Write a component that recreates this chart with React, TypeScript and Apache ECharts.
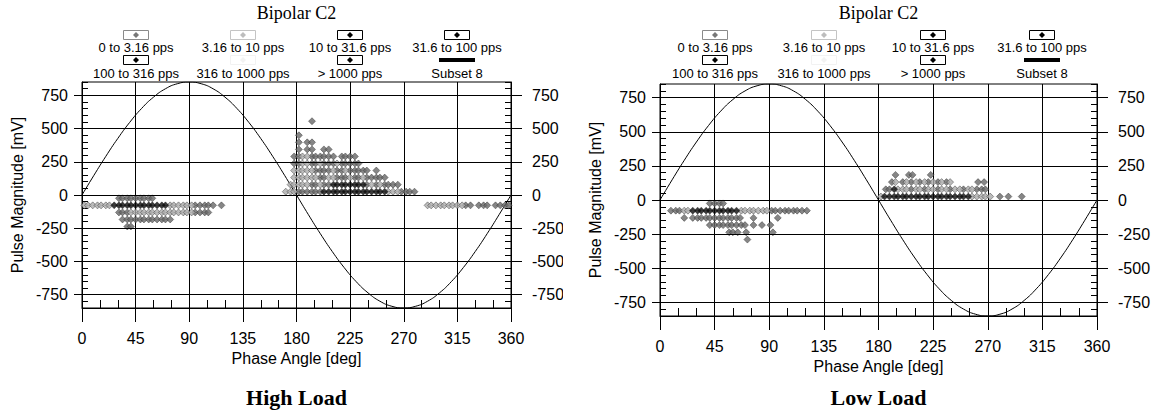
import React, { useEffect, useRef } from "react";
import * as echarts from "echarts";

// ---------- data ----------
const SERIES_NAMES = [
  "0 to 3.16 pps",
  "3.16 to 10 pps",
  "10 to 31.6 pps",
  "31.6 to 100 pps",
  "100 to 316 pps",
  "316 to 1000 pps",
  "> 1000 pps",
  "Subset 8",
];
const X_MIN = 0;
const X_MAX = 360;
const Y_MIN = -850;
const Y_MAX = 850;
const Y_TICKS = [-750, -500, -250, 0, 250, 500, 750];

// reference sine (phase in deg, magnitude in mV)
const SINE_PHASE = [0, 10, 20, 30, 40, 50, 60, 70, 80, 90, 100, 110, 120, 130, 140, 150, 160, 170, 180,
  190, 200, 210, 220, 230, 240, 250, 260, 270, 280, 290, 300, 310, 320, 330, 340, 350, 360];
const SINE_MV = [0, 148, 291, 425, 546, 651, 736, 799, 837, 850, 837, 799, 736, 651, 546, 425, 291, 148, 0,
  -148, -291, -425, -546, -651, -736, -799, -837, -850, -837, -799, -736, -651, -546, -425, -291, -148, 0];

type Rows = [number, number[]][];

// High Load: [magnitude mV, [phases deg]]
const HIGH_S1: Rows = [
  [-25, [31, 34, 38, 41, 45, 49, 52, 56, 59]],
  [-78, [95, 99, 103, 106, 110, 117, 322, 326, 333, 337, 340, 347, 351, 355, 358]],
  [-131, [31, 34, 38, 95, 99, 103, 106]],
  [-184, [34, 38, 41, 45, 49, 52, 56, 59, 63, 67, 70, 74]],
  [-237, [38, 41]],
  [555, [193]],
  [449, [182]],
  [396, [182, 189, 193]],
  [343, [182, 189, 193, 203, 207]],
  [290, [178, 182, 193, 196, 200, 203, 207, 211, 218, 221, 225, 229]],
  [237, [178, 182, 193, 196, 203, 207, 211, 218, 221, 225, 229, 232]],
  [184, [196, 200, 203, 207, 214, 218, 225, 229, 232, 236, 239, 247]],
  [131, [200, 203, 214, 218, 221, 229, 232, 239, 243, 247, 250, 254]],
  [78, [193, 196, 203, 207, 239, 247, 254, 257, 261, 265]],
  [25, [182, 185, 189, 193, 196, 200, 268, 272, 275, 279]],
];
const HIGH_S2: Rows = [
  [-78, [2, 5, 9, 13, 16, 20, 23, 74, 77, 81, 85, 88, 92, 290, 293, 297, 301, 304, 308, 311, 315, 319]],
  [-131, [41, 45, 49, 52, 56, 59, 63, 67, 70, 74, 77, 81, 85, 88, 92]],
  [290, [185, 189]],
  [237, [185, 189, 200, 214]],
  [184, [178, 182, 185, 189, 193, 211, 221]],
  [131, [178, 182, 185, 189, 193, 196, 207, 211, 225, 236]],
  [78, [175, 178, 182, 185, 189, 200, 243, 250]],
  [25, [171, 175, 178, 257, 261, 265]],
];
const HIGH_S3: Rows = [
  [-78, [27, 31, 34, 38, 41, 45, 49, 52, 56, 59, 63, 67, 70]],
  [78, [211, 214, 218, 221, 225, 229, 232, 236]],
  [25, [203, 207, 211, 214, 218, 221, 225, 229, 232, 236, 239, 243, 247, 250, 254]],
];

// Low Load
const LOW_S1: Rows = [
  [-25, [41, 45, 49, 52]],
  [-78, [9, 13, 16, 92, 95, 99, 103, 106, 110, 113, 117, 121]],
  [-131, [20, 27, 31, 34, 38, 41, 45, 49, 52, 56, 59, 63, 66, 77, 97]],
  [-184, [41, 45, 49, 52, 56, 59, 63, 67, 70, 77, 84, 91]],
  [-237, [57, 60, 64, 71, 93]],
  [-290, [72]],
  [184, [194, 205, 208, 223]],
  [131, [191, 200, 207, 214, 221, 229, 236, 262, 267]],
  [78, [186, 189, 207, 218, 229, 239, 250, 261, 265, 268]],
  [25, [280, 287, 298]],
];
const LOW_S2: Rows = [
  [-78, [20, 23, 67, 70, 74, 77, 81, 85, 88]],
  [131, [194, 203, 211, 218, 225, 232, 239]],
  [78, [196, 200, 203, 211, 214, 221, 225, 232, 236, 243, 247, 254, 257]],
  [25, [182, 257, 261, 265, 268, 272]],
];
const LOW_S3: Rows = [
  [-78, [27, 31, 34, 38, 41, 45, 49, 52, 56, 59, 63]],
  [78, [193]],
  [25, [185, 189, 193, 196, 200, 203, 207, 211, 214, 218, 221, 225, 229, 232, 236, 239, 243, 247, 250, 254]],
];

// ---------- styles ----------
const SANS = '"Liberation Sans", Arial, Helvetica, sans-serif';
const SERIF = '"Liberation Serif", "Times New Roman", serif';
const POINT_COLORS = ["#686868", "#ababab", "#0a0a0a"];
const LEGEND_BOX = ["#8a8a8a", "#c4c4c4", "#000", "#000", "#000", "#f2f2f2", "#000", "#000"];
const LEGEND_MARK = ["#777", "#bdbdbd", "#000", "#000", "#000", "#f2f2f2", "#000", "#000"];

const TITLE_Y = 13;
const BOX_Y = [35, 60];
const TEXT_Y = [47, 73];
const CAPTION_Y = 397;

type PanelCfg = {
  left: number;
  width: number;
  grid: { left: number; top: number; width: number; height: number };
  colSpacing: number;
  caption: string;
  rows: Rows[];
};

const PANELS: PanelCfg[] = [
  {
    left: 0,
    width: 563,
    grid: { left: 82, top: 82, width: 429, height: 226 },
    colSpacing: 107,
    caption: "High Load",
    rows: [HIGH_S1, HIGH_S2, HIGH_S3],
  },
  {
    left: 580,
    width: 575,
    grid: { left: 80, top: 84, width: 437, height: 232 },
    colSpacing: 109,
    caption: "Low Load",
    rows: [LOW_S1, LOW_S2, LOW_S3],
  },
];

function toPoints(rows: Rows): number[][] {
  const out: number[][] = [];
  rows.forEach(([mv, phases]) => phases.forEach((p) => out.push([p, mv])));
  return out;
}

function buildGraphic(cfg: PanelCfg) {
  const cx = cfg.grid.left + cfg.grid.width / 2;
  const cols = [-1.5, -0.5, 0.5, 1.5].map((k) => cx + k * cfg.colSpacing);
  const els: any[] = [];
  els.push({
    type: "text",
    x: cx,
    y: TITLE_Y,
    style: { text: "Bipolar C2", fill: "#000", font: `18px ${SERIF}`, align: "center", verticalAlign: "middle" },
  });
  SERIES_NAMES.forEach((name, i) => {
    const col = i % 4;
    const row = Math.floor(i / 4);
    const x = Math.round(cols[col]);
    const by = BOX_Y[row];
    if (i === 7) {
      els.push({
        type: "rect",
        shape: { x: x - 18, y: by - 2, width: 36, height: 4 },
        style: { fill: "#000" },
      });
    } else {
      els.push({
        type: "rect",
        shape: { x: x - 12.5, y: by - 4.5, width: 25, height: 9 },
        style: { fill: "#fff", stroke: LEGEND_BOX[i], lineWidth: 1 },
      });
      els.push({
        type: "polygon",
        shape: { points: [[x, by - 3], [x + 3, by], [x, by + 3], [x - 3, by]] },
        style: { fill: LEGEND_MARK[i] },
      });
    }
    els.push({
      type: "text",
      x,
      y: TEXT_Y[row],
      style: { text: name, fill: "#000", font: `13px ${SANS}`, align: "center", verticalAlign: "middle" },
    });
  });
  els.push({
    type: "text",
    x: cx,
    y: CAPTION_Y,
    style: { text: cfg.caption, fill: "#000", font: `bold 22px ${SERIF}`, align: "center", verticalAlign: "middle" },
  });
  return els;
}

function buildOption(cfg: PanelCfg) {
  const lineStyle = { color: "#000", width: 1 };
  const labelStyle = { color: "#000", fontSize: 16, fontFamily: SANS };
  const yMajor = (position: "left" | "right") => ({
    type: "value",
    min: Y_MIN,
    max: Y_MAX,
    position,
    axisLine: { show: true, onZero: false, lineStyle },
    axisTick: { show: true, length: position === "left" ? 8 : 11, customValues: Y_TICKS, lineStyle },
    axisLabel: { show: true, customValues: Y_TICKS, margin: position === "left" ? 14 : 21, ...labelStyle },
    splitLine: { show: false },
    ...(position === "left"
      ? {
          name: "Pulse Magnitude [mV]",
          nameLocation: "middle",
          nameGap: 56,
          nameTextStyle: { color: "#000", fontSize: 16, fontFamily: SANS },
        }
      : {}),
  });
  const yMinor = (position: "left" | "right") => ({
    type: "value",
    min: Y_MIN,
    max: Y_MAX,
    interval: 50,
    position,
    axisLine: { show: false, onZero: false },
    axisTick: { show: true, inside: true, length: 6, lineStyle },
    axisLabel: { show: false },
    splitLine: { show: false },
  });

  const series: any[] = [
    {
      type: "line",
      name: "sine",
      data: SINE_PHASE.map((p, i) => [p, SINE_MV[i]]),
      smooth: true,
      showSymbol: false,
      symbol: "none",
      silent: true,
      lineStyle: { color: "#000", width: 1 },
      z: 2,
      markLine: {
        silent: true,
        symbol: ["none", "none"],
        label: { show: false },
        lineStyle: { color: "#000", width: 1, type: "solid" },
        emphasis: { disabled: true },
        data: Y_TICKS.map((v) => ({ yAxis: v })),
      },
    },
  ];
  cfg.rows.forEach((rows, i) => {
    series.push({
      type: "scatter",
      name: SERIES_NAMES[i],
      data: toPoints(rows),
      symbol: "diamond",
      symbolSize: [7, 7],
      silent: true,
      itemStyle: { color: POINT_COLORS[i], borderColor: "#222", borderWidth: 0.5 },
      z: 3 + i,
    });
  });

  return {
    animation: false,
    backgroundColor: "#fff",
    grid: {
      ...cfg.grid,
      show: true,
      borderColor: "#000",
      borderWidth: 1,
      backgroundColor: "transparent",
      containLabel: false,
      outerBoundsMode: "none",
    },
    xAxis: [
      {
        type: "value",
        min: X_MIN,
        max: X_MAX,
        interval: 45,
        position: "bottom",
        axisLine: { show: true, onZero: false, lineStyle },
        axisTick: { show: true, length: 14, lineStyle },
        axisLabel: { show: true, margin: 22, ...labelStyle },
        splitLine: { show: true, lineStyle },
        name: "Phase Angle [deg]",
        nameLocation: "middle",
        nameGap: 40,
        nameTextStyle: { color: "#000", fontSize: 16, fontFamily: SANS },
      },
      {
        type: "value",
        min: X_MIN,
        max: X_MAX,
        interval: 15,
        position: "bottom",
        axisLine: { show: false, onZero: false },
        axisTick: { show: true, inside: true, length: 8, lineStyle },
        axisLabel: { show: false },
        splitLine: { show: false },
      },
    ],
    yAxis: [yMajor("left"), yMajor("right"), yMinor("left"), yMinor("right")],
    series,
    graphic: { elements: buildGraphic(cfg) },
  };
}

function Panel({ cfg }: { cfg: PanelCfg }) {
  const ref = useRef<HTMLDivElement>(null);
  useEffect(() => {
    if (!ref.current) return;
    const chart = echarts.init(ref.current, undefined, { renderer: "svg" });
    chart.setOption(buildOption(cfg) as any);
    return () => chart.dispose();
  }, [cfg]);
  return (
    <div
      style={{
        position: "absolute",
        left: cfg.left,
        top: 0,
        width: cfg.width,
        height: 413,
        overflow: "hidden",
      }}
    >
      <div ref={ref} style={{ width: cfg.width, height: 413 }} />
    </div>
  );
}

export default function App() {
  return (
    <div style={{ position: "absolute", left: 0, top: 0, width: 1155, height: 413, background: "#fff" }}>
      {PANELS.map((p, i) => (
        <Panel key={i} cfg={p} />
      ))}
    </div>
  );
}
